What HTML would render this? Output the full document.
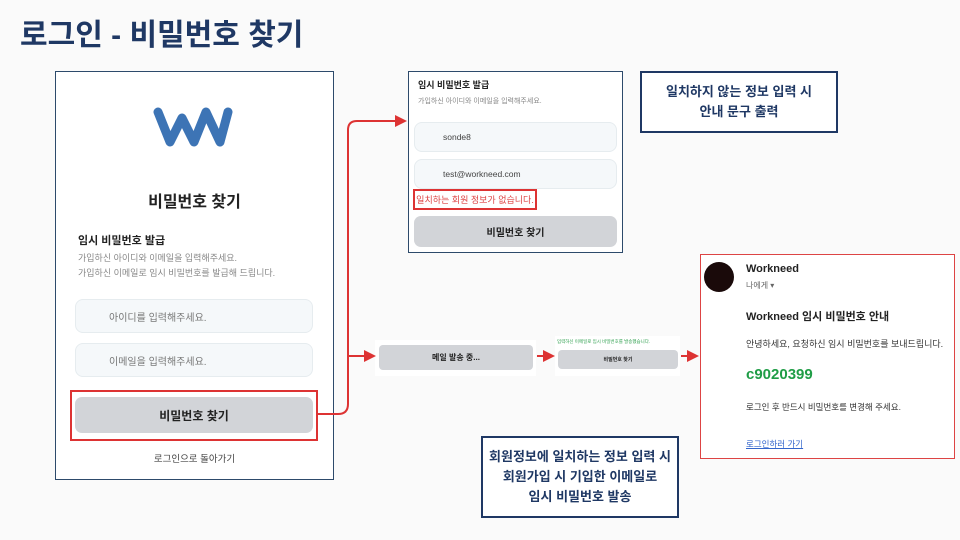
<!DOCTYPE html>
<html><head><meta charset="utf-8"><style>
body{margin:0;width:960px;height:540px;background:#fafafa;position:relative;overflow:hidden;font-family:"Liberation Sans","Noto Sans CJK KR",sans-serif;}
.a{position:absolute;}
.c{display:flex;align-items:center;justify-content:center;}
.inp{position:absolute;background:#f5f8fa;border:1px solid #e6ecef;border-radius:8px;font-size:10px;color:#777;box-sizing:border-box;display:flex;align-items:center;}
.btn{position:absolute;background:#d2d4d8;border-radius:7px;font-weight:bold;color:#222;display:flex;align-items:center;justify-content:center;}
.note{position:absolute;border:2px solid #1f3864;background:#fff;color:#1f3864;font-weight:bold;font-size:13px;text-align:center;line-height:20px;box-sizing:border-box;display:flex;align-items:center;justify-content:center;}
</style></head><body>
<div class="a" style="left:20px;top:10px;font-size:30px;font-weight:bold;color:#1f3864;">로그인 - 비밀번호 찾기</div>

<!-- left panel -->
<div class="a" style="left:55px;top:71px;width:279px;height:409px;border:1.5px solid #2d4a6b;background:#fff;box-sizing:border-box;"></div>
<svg class="a" style="left:150px;top:104px" width="86" height="46" viewBox="0 0 86 46"><path d="M8 8 L20 38 L32 14 L44 38 L56 8 L70 38 L78 8" fill="none" stroke="#3d74b5" stroke-width="9" stroke-linecap="round" stroke-linejoin="round"/></svg>
<div class="a" style="left:55px;top:188px;width:279px;text-align:center;font-size:16px;font-weight:bold;color:#222;">비밀번호 찾기</div>
<div class="a" style="left:78px;top:232px;font-size:11px;font-weight:bold;color:#222;">임시 비밀번호 발급</div>
<div class="a" style="left:78px;top:251px;font-size:9px;color:#888;line-height:15px;">가입하신 아이디와 이메일을 입력해주세요.<br>가입하신 이메일로 임시 비밀번호를 발급해 드립니다.</div>
<div class="inp" style="left:75px;top:299px;width:238px;height:34px;padding-left:33px;">아이디를 입력해주세요.</div>
<div class="inp" style="left:75px;top:343px;width:238px;height:34px;padding-left:33px;">이메일을 입력해주세요.</div>
<div class="btn" style="left:75px;top:397px;width:238px;height:36px;font-size:12px;">비밀번호 찾기</div>
<div class="a" style="left:70px;top:390px;width:248px;height:51px;border:2px solid #d33;box-sizing:border-box;"></div>
<div class="a" style="left:55px;top:451px;width:279px;text-align:center;font-size:9.5px;color:#444;">로그인으로 돌아가기</div>

<!-- top middle panel -->
<div class="a" style="left:408px;top:71px;width:215px;height:182px;border:1.5px solid #2d4a6b;background:#fff;box-sizing:border-box;"></div>
<div class="a" style="left:418px;top:78px;font-size:9px;font-weight:bold;color:#222;">임시 비밀번호 발급</div>
<div class="a" style="left:418px;top:96px;font-size:7px;color:#888;">가입하신 아이디와 이메일을 입력해주세요.</div>
<div class="inp" style="left:414px;top:122px;width:203px;height:30px;padding-left:28px;color:#444;font-size:8.5px;">sonde8</div>
<div class="inp" style="left:414px;top:159px;width:203px;height:30px;padding-left:28px;color:#444;font-size:8.5px;">test@workneed.com</div>
<div class="a c" style="left:413px;top:189px;width:124px;height:21px;border:2px solid #d33;box-sizing:border-box;font-size:9px;color:#d44;white-space:nowrap;">일치하는 회원 정보가 없습니다.</div>
<div class="btn" style="left:414px;top:216px;width:203px;height:31px;font-size:10px;">비밀번호 찾기</div>

<div class="note" style="left:640px;top:71px;width:198px;height:62px;">일치하지 않는 정보 입력 시<br>안내 문구 출력</div>

<!-- middle small -->
<div class="a" style="left:375px;top:340px;width:161px;height:36px;background:#fff;"></div>
<div class="btn" style="left:379px;top:345px;width:154px;height:25px;font-size:8px;border-radius:4px;">메일 발송 중...</div>
<div class="a" style="left:555px;top:336px;width:125px;height:40px;background:#fff;"></div>
<div class="a" style="left:557px;top:339px;font-size:4.5px;color:#2a9d4a;white-space:nowrap;">입력하신 이메일로 임시 비밀번호를 발송했습니다.</div>
<div class="btn" style="left:558px;top:350px;width:120px;height:19px;font-size:5px;border-radius:4px;">비밀번호 찾기</div>

<!-- email -->
<div class="a" style="left:700px;top:254px;width:255px;height:205px;border:1.5px solid #d44;background:#fff;box-sizing:border-box;"></div>
<div class="a" style="left:704px;top:262px;width:30px;height:30px;border-radius:50%;background:#1a0a0a;"></div>
<div class="a" style="left:746px;top:263px;font-size:11px;font-weight:bold;color:#222;">Workneed</div>
<div class="a" style="left:746px;top:280px;font-size:8px;color:#666;">나에게 ▾</div>
<div class="a" style="left:746px;top:308px;font-size:11px;font-weight:bold;color:#222;">Workneed 임시 비밀번호 안내</div>
<div class="a" style="left:746px;top:337px;font-size:9px;color:#333;">안녕하세요, 요청하신 임시 비밀번호를 보내드립니다.</div>
<div class="a" style="left:746px;top:366px;font-size:15px;font-weight:bold;color:#1f9d46;">c9020399</div>
<div class="a" style="left:746px;top:401px;font-size:8.5px;color:#333;">로그인 후 반드시 비밀번호를 변경해 주세요.</div>
<div class="a" style="left:746px;top:438px;font-size:8.5px;color:#3366cc;text-decoration:underline;">로그인하러 가기</div>

<div class="note" style="left:481px;top:436px;width:198px;height:82px;">회원정보에 일치하는 정보 입력 시<br>회원가입 시 기입한 이메일로<br>임시 비밀번호 발송</div>

<!-- connectors -->
<svg class="a" style="left:0;top:0" width="960" height="540">
<defs><marker id="ar" markerWidth="6" markerHeight="6" refX="5" refY="3" orient="auto"><path d="M0 0 L6 3 L0 6z" fill="#d33"/></marker></defs>
<g fill="none" stroke="#d33" stroke-width="2">
<path d="M318 414 L338 414 Q348 414 348 404 L348 130 Q348 121 357 121 L405 121" marker-end="url(#ar)"/>
<path d="M348 356 L374 356" marker-end="url(#ar)"/>
<path d="M537 356 L553 356" marker-end="url(#ar)"/>
<path d="M681 356 L697 356" marker-end="url(#ar)"/>
</g></svg>
</body></html>
